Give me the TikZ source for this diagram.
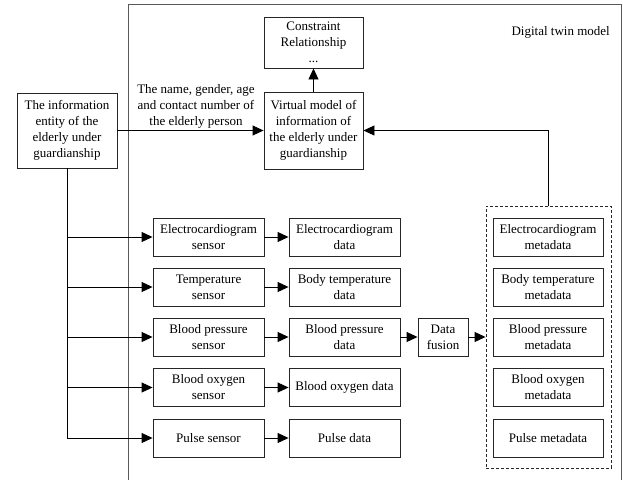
\documentclass[tikz,border=0pt]{standalone}
\usepackage{fontspec}
\setmainfont{Liberation Serif}
\usetikzlibrary{arrows.meta,positioning,fit}

\tikzset{
  box/.style={draw=black!85, line width=0.9pt, align=center, inner sep=1pt,
              font=\fontsize{13}{16}\selectfont},
  arr/.style={draw=black, line width=0.9pt,
              -{Triangle[length=11pt,width=10pt]}},
  plain/.style={draw=black, line width=0.9pt},
  lbl/.style={align=center, font=\fontsize{13}{16}\selectfont, inner sep=0pt},
}

\begin{document}
\begin{tikzpicture}[x=1pt,y=-1pt]
  \useasboundingbox (0,0) rectangle (623,479);

  % outer frame of the digital twin model (open at the bottom)
  \begin{scope}
    \clip (0,0) rectangle (623,479);
    \draw[black!65, line width=1.5pt] (128.5,495) -- (128.5,4.5) -- (621.5,4.5) -- (621.5,495);
  \end{scope}
  \node[lbl, anchor=east] (title) at (610,32) {Digital twin model};

  % entity and virtual model
  \node[box, minimum width=100pt, minimum height=75pt] (info) at (67,130.5)
    {The information\\entity of the\\elderly under\\guardianship};
  \node[box, minimum width=99pt, minimum height=77pt] (virt) at (313.5,130.5)
    {Virtual model of\\information of\\the elderly under\\guardianship};
  \node[box, minimum width=99pt, minimum height=51pt] (cons) at (313.5,42.5)
    {\raisebox{-1.5pt}{\parbox{95pt}{\centering Constraint\\Relationship\\...}}};

  % sensors
  \foreach \n/\y/\t in {s1/237/{Electrocardiogram\\sensor},
                        s2/287/{Temperature\\sensor},
                        s3/337/{Blood pressure\\sensor},
                        s4/387.5/{Blood oxygen\\sensor},
                        s5/438/{Pulse sensor}}
    \node[box, minimum width=111pt, minimum height=38pt] (\n) at (208.5,\y) {\t};

  % raw data
  \foreach \n/\y/\t in {d1/237/{Electrocardiogram\\data},
                        d2/287/{Body temperature\\data},
                        d3/337/{Blood pressure\\data},
                        d4/387.5/{Blood oxygen data},
                        d5/438/{Pulse data}}
    \node[box, minimum width=111pt, minimum height=38pt] (\n) at (344.5,\y) {\t};

  % fusion
  \node[box, minimum width=50pt, minimum height=38pt] (fus) at (443,337) {Data\\fusion};

  % metadata
  \foreach \n/\y/\t in {m1/237/{Electrocardiogram\\metadata},
                        m2/287/{Body temperature\\metadata},
                        m3/337/{Blood pressure\\metadata},
                        m4/387.5/{Blood oxygen\\metadata},
                        m5/438/{Pulse metadata}}
    \node[box, minimum width=110pt, minimum height=38pt] (\n) at (548,\y) {\t};

  % dashed group around the metadata
  \node[draw=black!85, dash pattern=on 3pt off 2pt, line width=0.9pt,
        minimum width=125pt, minimum height=262pt, inner sep=0pt] (meta) at (548.5,337) {};

  % connectors
  \draw[arr] (info.east) -- node[lbl, above=2pt, xshift=5.5pt]
    {The name, gender, age\\and contact number of\\the elderly person} (virt.west);
  \draw[arr] (virt.north) -- (cons.south);
  \draw[arr] (meta.north) |- (virt.east);

  \draw[plain] (info.south) -- (info.south |- s5.west);
  \foreach \i in {1,...,5} {
    \draw[arr] (info.south |- s\i.west) -- (s\i.west);
    \draw[arr] (s\i.east) -- (d\i.west);
  }
  \draw[arr] (d3.east) -- (fus.west);
  \draw[arr] (fus.east) -- (meta.west |- fus.east);
\end{tikzpicture}
\end{document}
